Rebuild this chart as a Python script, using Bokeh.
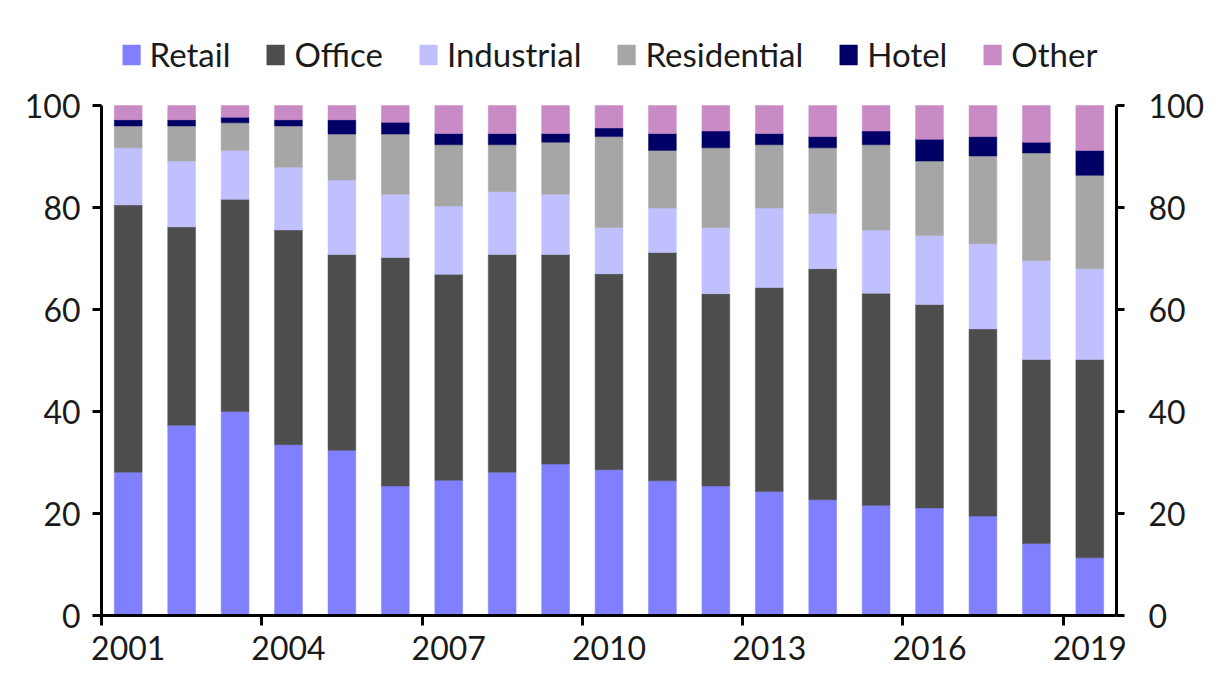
from bokeh.plotting import figure
from bokeh.models import Range1d, FixedTicker, LinearAxis, Legend, LegendItem
from bokeh.embed import file_html
from bokeh.resources import INLINE

years = list(range(2001, 2020))
retail = [28.1, 37.3, 40.0, 33.5, 32.4, 25.4, 26.5, 28.1, 29.7, 28.6, 26.4, 25.4, 24.3, 22.7, 21.6, 21.1, 19.5, 14.1, 11.3]
office = [52.4, 38.9, 41.6, 42.1, 38.4, 44.8, 40.4, 42.7, 41.1, 38.4, 44.8, 37.7, 40.0, 45.3, 41.6, 39.9, 36.7, 36.1, 38.9]
industrial = [11.2, 12.9, 9.6, 12.3, 14.6, 12.4, 13.4, 12.3, 11.8, 9.1, 8.7, 13.0, 15.6, 10.8, 12.4, 13.5, 16.7, 19.4, 17.8]
residential = [4.3, 6.9, 5.4, 8.1, 9.0, 11.8, 12.0, 9.2, 10.2, 17.8, 11.3, 15.6, 12.4, 12.9, 16.7, 14.6, 17.2, 21.1, 18.3]
hotel = [1.2, 1.2, 1.1, 1.2, 2.8, 2.3, 2.2, 2.2, 1.7, 1.7, 3.3, 3.3, 2.2, 2.2, 2.7, 4.3, 3.8, 2.1, 4.9]
other = [2.8, 2.8, 2.3, 2.8, 2.8, 3.3, 5.5, 5.5, 5.5, 4.4, 5.5, 5.0, 5.5, 6.1, 5.0, 6.6, 6.1, 7.2, 8.8]

series_names = ["Retail", "Office", "Industrial", "Residential", "Hotel", "Other"]
colors = ["#8080FF", "#4D4D4D", "#C0C0FF", "#A6A6A6", "#000066", "#C88BC6"]

label_years = years[::3]
y_ticks = [0, 20, 40, 60, 80, 100]

data = dict(year=years, Retail=retail, Office=office, Industrial=industrial,
            Residential=residential, Hotel=hotel, Other=other)

FONT = "Lato"
TXT = "#1a1a1a"

W, H = 1212, 680
TOP = 20                      # frame top (px); value 100 sits at 105 px
PX_PER_UNIT = (615 - 105) / 100.0
y_end = 100 + (105 - TOP) / PX_PER_UNIT

p = figure(width=W, height=H, output_backend="svg", toolbar_location=None,
           x_range=Range1d(years[0] - 0.5, years[-1] + 0.5), y_range=Range1d(0, y_end),
           min_border_left=101, min_border_right=W - 1116, min_border_top=TOP,
           min_border_bottom=H - 615,
           x_axis_location=None, y_axis_location=None)
p.outline_line_color = None
p.xgrid.visible = False
p.ygrid.visible = False
p.background_fill_color = "white"
p.border_fill_color = "white"

rs = p.vbar_stack(series_names, x="year", width=0.52, source=data,
                  fill_color=colors, line_color=colors, line_width=0.5)

def style_axis(ax):
    ax.axis_line_width = 3
    ax.axis_line_color = "black"
    ax.major_tick_line_width = 3
    ax.major_tick_line_color = "black"
    ax.major_tick_in = 0
    ax.major_tick_out = 9
    ax.minor_tick_line_color = None
    ax.major_label_text_font = FONT
    ax.major_label_text_font_size = "32px"
    ax.major_label_text_color = TXT

yl = LinearAxis(ticker=FixedTicker(ticks=y_ticks), bounds=(0, 100))
style_axis(yl)
yl.major_label_standoff = 12
p.add_layout(yl, "left")

yr = LinearAxis(ticker=FixedTicker(ticks=y_ticks), bounds=(0, 100))
style_axis(yr)
yr.major_tick_out = 8
yr.major_label_standoff = 24
p.add_layout(yr, "right")

# bottom axis: tick marks at boundaries between year groups (no labels)
bounds = [y - 0.5 for y in label_years]
xb = LinearAxis(ticker=FixedTicker(ticks=bounds))
style_axis(xb)
xb.major_tick_out = 10
xb.major_label_overrides = {b: "" for b in bounds}
xb.major_label_standoff = 0
p.add_layout(xb, "below")

# bottom labels at the bar centres
xl = LinearAxis(ticker=FixedTicker(ticks=label_years))
style_axis(xl)
xl.axis_line_color = None
xl.major_tick_line_color = None
xl.major_tick_out = 0
xl.major_label_standoff = 10
p.add_layout(xl, "below")

legend = Legend(items=[LegendItem(label=n, renderers=[r]) for n, r in zip(series_names, rs)],
                orientation="horizontal", location="top_center",
                label_text_font=FONT, label_text_font_size="33px", label_text_color=TXT,
                glyph_width=22, glyph_height=25, label_standoff=8, spacing=34,
                border_line_color=None, background_fill_alpha=0, padding=4, margin=14)
p.add_layout(legend)

open("out.html", "w").write(file_html(p, INLINE))
